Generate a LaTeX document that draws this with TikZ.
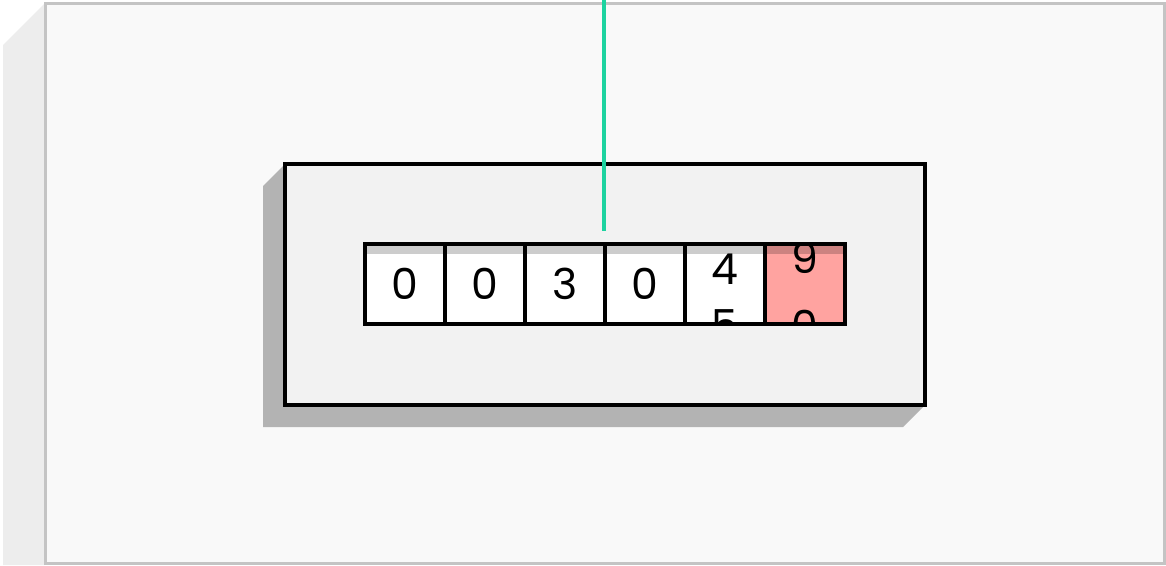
\documentclass[tikz,border=0pt]{standalone}
\usepackage{fontspec}
\setmainfont{Poppins}
\usetikzlibrary{positioning}
\definecolor{panelbg}{HTML}{F9F9F9}
\definecolor{panelside}{HTML}{EDEDED}
\definecolor{panelrim}{HTML}{C4C4C4}
\definecolor{boxbg}{HTML}{F2F2F2}
\definecolor{boxshadow}{HTML}{B3B3B3}
\definecolor{lastwheel}{HTML}{FFA3A0}
\definecolor{probe}{HTML}{1DD3A0}
\newcommand{\wheeltop}{\fill[black,opacity=0.2] (path picture bounding box.north west) rectangle ([yshift=-7.5pt]path picture bounding box.north east);}

\begin{document}
\begin{tikzpicture}[x=0.75pt,y=-0.75pt,
    digitfont/.style={font=\fontsize{32}{32}\selectfont},
    rolldigit/.style={digitfont,anchor=center,inner sep=0pt},
    wheel/.style={draw,line width=2.6pt,fill=white,minimum size=60pt,inner sep=0pt,outer sep=0pt,digitfont,path picture={\wheeltop}}]
  \useasboundingbox (0,0) rectangle (1166,565);
  % panel
  \fill[panelside] (45,3) -- (3,45) -- (3,565) -- (45,565) -- cycle;
  \draw[line width=2.25pt,draw=panelrim,fill=panelbg] (45,3) rectangle (1164,563);
  % counter housing
  \fill[boxshadow] (285,164) -- (263,186) -- (263,427) -- (903,427) -- (925,405) -- cycle;
  \node[draw,line width=2.6pt,fill=boxbg,minimum width=480pt,minimum height=180.75pt,inner sep=0pt] (housing) at (605,284.5) {};
  % wheels
  \node[wheel] (w1) at (405,284) {0};
  \node[wheel,right=0pt of w1] (w2) {0};
  \node[wheel,right=0pt of w2] (w3) {3};
  \node[wheel,right=0pt of w3] (w4) {0};
  \node[wheel,right=0pt of w4,path picture={
      \node[rolldigit] at ([yshift=11.25pt]path picture bounding box.center) {4};
      \node[rolldigit] at ([yshift=-30.75pt]path picture bounding box.center) {5};
      \wheeltop}] (w5) {};
  \node[wheel,fill=lastwheel,right=0pt of w5,path picture={
      \node[rolldigit] at ([yshift=19.5pt]path picture bounding box.center) {9};
      \node[rolldigit] at ([yshift=-31.5pt]path picture bounding box.center) {0};
      \wheeltop}] (w6) {};
  % pointer
  \coordinate (probe top) at (604,0);
  \coordinate (probe tip) at (604,231);
  \draw[probe,line width=3pt] (probe top) -- (probe tip);
\end{tikzpicture}
\end{document}
